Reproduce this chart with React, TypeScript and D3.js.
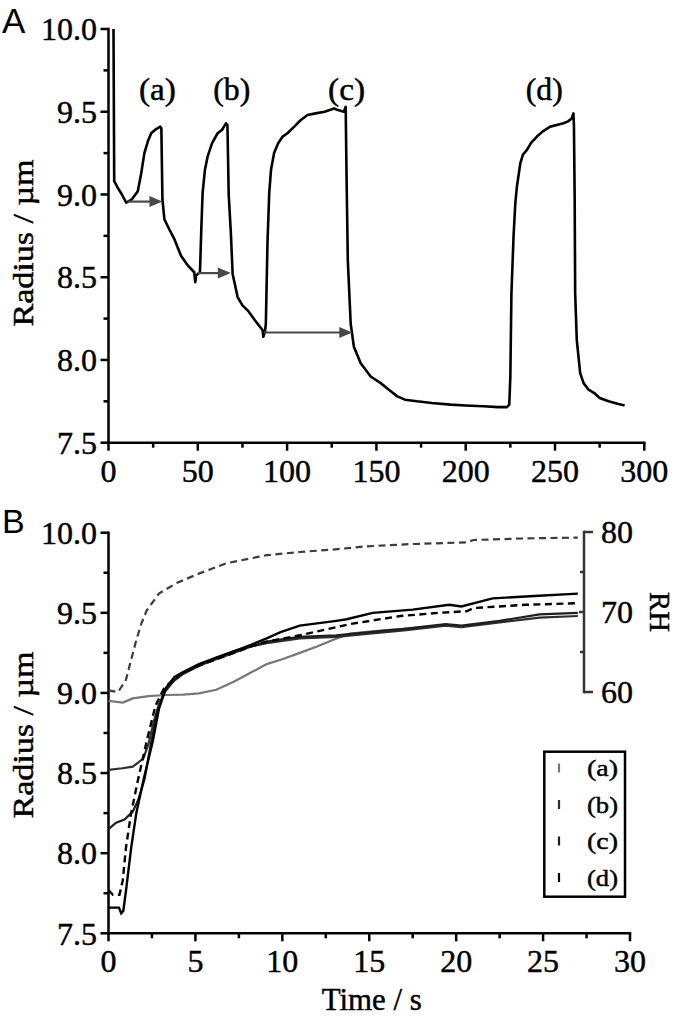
import React from "react";
import * as d3 from "d3";

// ---------- Panel A data: radius (µm) vs time (s) ----------
const panelATime = [2.8, 3.2, 5.2, 7.5, 9.9, 13, 16.4, 18.2, 20.1, 22, 23.9, 26, 29, 29.6, 30.2, 31.3, 34, 36.9, 40.6, 44.5, 48, 48.6, 49, 51.2, 52.0, 52.7, 54, 55.5, 58, 61.1, 63.5, 65.8, 66.6, 67.3, 68.5, 69.5, 72.3, 75, 77.9, 82, 86.3, 86.7, 87.6, 88.1, 89, 90, 91, 92.7, 95, 97.5, 100.2, 104, 107.7, 111.4, 116, 121, 126.3, 128.5, 131.8, 132.8, 133.3, 134, 135.6, 137.4, 141.2, 146.8, 152.4, 157, 161.7, 166, 172.8, 181, 191.5, 200, 210, 218, 223.1, 224.4, 225.0, 225.6, 226.8, 227.8, 228.7, 230.6, 232, 234.3, 236.5, 239.9, 243, 247.3, 251, 254.7, 257, 259.4, 260.3, 260.6, 261, 261.3, 262.2, 264.1, 266, 268.8, 272, 275, 280, 285, 289];
const panelARadius = [10.0, 9.08, 9.04, 9.0, 8.95, 8.97, 9.02, 9.12, 9.25, 9.32, 9.37, 9.39, 9.41, 9.4, 8.97, 8.85, 8.79, 8.73, 8.63, 8.57, 8.53, 8.47, 8.51, 8.53, 8.8, 9.01, 9.15, 9.23, 9.31, 9.37, 9.39, 9.43, 9.42, 9.0, 8.77, 8.52, 8.38, 8.33, 8.3, 8.24, 8.18, 8.14, 8.17, 8.22, 8.7, 9.01, 9.15, 9.25, 9.31, 9.35, 9.37, 9.41, 9.45, 9.48, 9.49, 9.5, 9.52, 9.51, 9.5, 9.53, 9.1, 8.6, 8.22, 8.08, 7.98, 7.9, 7.86, 7.82, 7.78, 7.76, 7.75, 7.74, 7.73, 7.725, 7.72, 7.715, 7.715, 7.73, 7.9, 8.4, 8.75, 8.95, 9.05, 9.19, 9.24, 9.27, 9.31, 9.35, 9.38, 9.41, 9.42, 9.43, 9.44, 9.46, 9.49, 9.42, 9.0, 8.4, 8.12, 7.92, 7.86, 7.82, 7.8, 7.77, 7.75, 7.735, 7.725];

// arrows (start time, end time, radius)
const arrowStart = [10.7, 49.9, 87.2];
const arrowEnd = [30.2, 68.5, 136.5];
const arrowRadius = [8.957, 8.525, 8.166];

const cycleLabels = ["(a)", "(b)", "(c)", "(d)"];
const cycleLabelTime = [27.4, 69, 133.3, 244];
const cycleLabelRadius = 9.571;

const aXTicks = [0, 50, 100, 150, 200, 250, 300];
const aXMinor = [25, 75, 125, 175, 225, 275];
const radiusTicks = [7.5, 8.0, 8.5, 9.0, 9.5, 10.0];
const radiusMinor = [7.75, 8.25, 8.75, 9.25, 9.75];

// ---------- Panel B data ----------
const rhTime = [0, 0.55, 1.0, 1.3, 1.6, 1.9, 2.2, 2.9, 3.9, 5.2, 6.8, 9.1, 11, 12.9, 14.8, 17.5, 20.6, 21, 24, 27];
const rhValue = [60.2, 60.0, 61.5, 64, 66.5, 68.6, 70.2, 72.3, 73.6, 74.8, 76.1, 77.1, 77.5, 77.8, 78.2, 78.5, 78.7, 79.0, 79.2, 79.3];

const timeA = [0, 0.83, 1.4, 2.3, 3.3, 4.3, 5.2, 6.2, 7.2, 7.9, 9.1, 10, 11, 12, 12.9, 13.9, 15.8, 17, 18];
const radiusA = [8.95, 8.94, 8.966, 8.98, 8.987, 8.99, 8.997, 9.02, 9.07, 9.11, 9.18, 9.21, 9.25, 9.29, 9.33, 9.37, 9.39, 9.4, 9.41];

const timeB = [0, 0.8, 1.4, 2.0, 2.3, 2.6, 2.9, 3.3, 3.8, 4.3, 5.2, 6.2, 7.2, 8.2, 9.1, 11, 13.1, 15, 17, 19.4, 20.3, 22.5, 24.8, 27];
const radiusB = [8.52, 8.53, 8.54, 8.59, 8.68, 8.82, 8.93, 9.02, 9.08, 9.12, 9.17, 9.21, 9.25, 9.29, 9.31, 9.34, 9.35, 9.37, 9.39, 9.42, 9.41, 9.44, 9.47, 9.48];

const timeC = [0, 0.44, 0.92, 1.4, 1.7, 2.07, 2.4, 2.8, 3.2, 3.7, 4.3, 5.2, 6.2, 7.2, 8.2, 9.1, 11, 13.1, 15, 17, 19.4, 20.3, 22.5, 24.8, 27];
const radiusC = [8.15, 8.19, 8.21, 8.26, 8.33, 8.46, 8.66, 8.88, 9.0, 9.07, 9.12, 9.17, 9.22, 9.26, 9.29, 9.32, 9.35, 9.36, 9.38, 9.4, 9.43, 9.42, 9.45, 9.49, 9.5];

const timeD = [0, 0.6, 0.73, 0.85, 1.0, 1.3, 1.6, 2.0, 2.55, 2.9, 3.3, 3.8, 4.3, 5.2, 6.2, 7.2, 8.2, 9.1, 9.9, 11, 13.1, 13.7, 15.2, 17.5, 19.6, 20.3, 22.1, 24.5, 27];
const radiusD = [7.66, 7.66, 7.625, 7.64, 7.76, 8.03, 8.25, 8.45, 8.7, 8.9, 9.03, 9.1, 9.13, 9.18, 9.22, 9.26, 9.3, 9.34, 9.38, 9.42, 9.45, 9.46, 9.5, 9.52, 9.55, 9.54, 9.59, 9.605, 9.62];

const timeDashed = [0, 0.25, 0.63, 0.82, 1.0, 1.3, 1.7, 2.2, 2.7, 3.2, 3.8, 4.3, 5.2, 6.2, 7.2, 8.2, 9.1, 11, 13.1, 13.9, 16.8, 19, 20.6, 21, 24, 27];
const radiusDashed = [7.77, 7.74, 7.74, 7.83, 8.03, 8.25, 8.46, 8.7, 8.92, 9.03, 9.09, 9.13, 9.17, 9.21, 9.25, 9.29, 9.32, 9.36, 9.41, 9.43, 9.48, 9.5, 9.51, 9.53, 9.55, 9.56];

const bXTicks = [0, 5, 10, 15, 20, 25, 30];
const bXMinor = [2.5, 7.5, 12.5, 17.5, 22.5, 27.5];
const rhTicks = [60, 70, 80];
const rhMinor = [65, 75];

const legendLabels = ["(a)", "(b)", "(c)", "(d)"];
const legendColors = ["#777777", "#2e2e2e", "#1e1e1e", "#000000"];

// ---------- scales ----------
const ax = d3.scaleLinear().domain([0, 300]).range([108.5, 644.3]);
const ay = d3.scaleLinear().domain([7.5, 10]).range([442.7, 29]);
const bx = d3.scaleLinear().domain([0, 30]).range([108.5, 630]);
const by = d3.scaleLinear().domain([7.5, 10]).range([933.3, 532.7]);
const brh = d3.scaleLinear().domain([60, 80]).range([692, 532]);

const SERIF = '"Liberation Serif", Tinos, "Times New Roman", Times, serif';
const SANS = '"Liberation Sans", Arimo, Arial, sans-serif';
const serifStyle = { fontFamily: SERIF, stroke: "#000", strokeWidth: 0.45 };
const sansStyle = { fontFamily: SANS };

function zip(xs: number[], ys: number[]): [number, number][] {
  return xs.map((x, i) => [x, ys[i]]);
}

function Axes({ x, y, xt, xm, yt, ym, xfmt }: any) {
  const x0 = x.range()[0];
  const x1 = x.range()[1];
  const yb = y.range()[0];
  const yt0 = y.range()[1];
  return (
    <g>
      <g stroke="#000" strokeWidth={2.5} fill="none">
        <line x1={x0} y1={yb} x2={x1} y2={yb} strokeLinecap="square" />
        <line x1={x0} y1={yb} x2={x0} y2={yt0} strokeLinecap="square" />
        {xt.map((v: number) => (
          <line key={"xt" + v} x1={x(v)} x2={x(v)} y1={yb} y2={yb + 8} />
        ))}
        {xm.map((v: number) => (
          <line key={"xm" + v} x1={x(v)} x2={x(v)} y1={yb} y2={yb + 5} />
        ))}
        {yt.map((v: number) => (
          <line key={"yt" + v} x1={x0} x2={x0 - 8} y1={y(v)} y2={y(v)} />
        ))}
        {ym.map((v: number) => (
          <line key={"ym" + v} x1={x0} x2={x0 - 5} y1={y(v)} y2={y(v)} />
        ))}
      </g>
      {xt.map((v: number) => (
        <text key={"xl" + v} x={x(v)} y={yb + 39} textAnchor="middle" fontSize={32} style={serifStyle}>
          {xfmt(v)}
        </text>
      ))}
      {yt.map((v: number) => (
        <text key={"yl" + v} x={97} y={y(v)} dy="0.35em" textAnchor="end" fontSize={32} style={serifStyle}>
          {d3.format(".1f")(v)}
        </text>
      ))}
    </g>
  );
}

export default function App() {
  const lineA = d3
    .line<[number, number]>()
    .x((d) => ax(d[0]))
    .y((d) => ay(d[1]));
  const lineB = d3
    .line<[number, number]>()
    .x((d) => bx(d[0]))
    .y((d) => by(d[1]));
  const lineRH = d3
    .line<[number, number]>()
    .x((d) => bx(d[0]))
    .y((d) => brh(d[1]));

  const intFmt = d3.format("d");

  return (
    <svg
      width={677}
      height={1017}
      viewBox="0 0 677 1017"
      style={{ position: "absolute", left: 0, top: 0, background: "#fff" }}
    >
      <rect x={0} y={0} width={677} height={1017} fill="#fff" />
      {/* ---------- Panel A ---------- */}
      <text x={2} y={33} fontSize={35} style={sansStyle}>A</text>
      <Axes x={ax} y={ay} xt={aXTicks} xm={aXMinor} yt={radiusTicks} ym={radiusMinor} xfmt={intFmt} />
      <text
        transform={`translate(33,243) rotate(-90)`}
        textAnchor="middle"
        fontSize={30}
        textLength={167}
        lengthAdjust="spacingAndGlyphs"
        style={serifStyle}
      >
        Radius / µm
      </text>
      <path
        d={lineA(zip(panelATime, panelARadius)) || ""}
        fill="none"
        stroke="#000"
        strokeWidth={2.6}
        strokeLinejoin="round"
      />
      {arrowStart.map((t0, i) => {
        const xs = ax(t0);
        const xe = ax(arrowEnd[i]);
        const yy = ay(arrowRadius[i]);
        return (
          <g key={"arr" + i} fill="#484848" stroke="#484848">
            <line x1={xs} y1={yy} x2={xe - 11} y2={yy} strokeWidth={2.2} />
            <polygon points={`${xe},${yy} ${xe - 13},${yy - 5.5} ${xe - 13},${yy + 5.5}`} stroke="none" />
          </g>
        );
      })}
      {cycleLabels.map((s, i) => (
        <text
          key={s}
          x={ax(cycleLabelTime[i])}
          y={ay(cycleLabelRadius)}
          textAnchor="middle"
          fontSize={31}
          textLength={37}
          lengthAdjust="spacingAndGlyphs"
          style={serifStyle}
        >
          {s}
        </text>
      ))}

      {/* ---------- Panel B ---------- */}
      <text x={2} y={533} fontSize={34} style={sansStyle}>B</text>
      <Axes x={bx} y={by} xt={bXTicks} xm={bXMinor} yt={radiusTicks} ym={radiusMinor} xfmt={intFmt} />
      <text
        transform={`translate(33,735) rotate(-90)`}
        textAnchor="middle"
        fontSize={30}
        textLength={167}
        lengthAdjust="spacingAndGlyphs"
        style={serifStyle}
      >
        Radius / µm
      </text>
      <text
        x={371.7}
        y={1010}
        textAnchor="middle"
        fontSize={31}
        textLength={100}
        lengthAdjust="spacingAndGlyphs"
        style={serifStyle}
      >
        Time / s
      </text>

      {/* RH axis */}
      <g stroke="#333" strokeWidth={2.5} fill="none">
        <line x1={584} x2={584} y1={brh(60)} y2={brh(80)} strokeLinecap="square" />
        <line x1={584} x2={593} y1={brh(80)} y2={brh(80)} />
        <line x1={584} x2={593} y1={brh(60)} y2={brh(60)} />
        <line x1={584} x2={579} y1={brh(70)} y2={brh(70)} />
        {rhMinor.map((v) => (
          <line key={"rm" + v} x1={584} x2={580} y1={brh(v)} y2={brh(v)} />
        ))}
      </g>
      {rhTicks.map((v) => (
        <text key={"rh" + v} x={601} y={brh(v)} dy="0.35em" fontSize={32} style={serifStyle}>
          {v}
        </text>
      ))}
      <text
        transform={`translate(650,612) rotate(90)`}
        textAnchor="middle"
        fontSize={30}
        textLength={40}
        lengthAdjust="spacingAndGlyphs"
        style={serifStyle}
      >
        RH
      </text>

      {/* RH dashed */}
      <path
        d={lineRH(zip(rhTime, rhValue)) || ""}
        fill="none"
        stroke="#3c3c3c"
        strokeWidth={2.2}
        strokeDasharray="7,4.5"
      />
      {/* radius curves */}
      <path d={lineB(zip(timeA, radiusA)) || ""} fill="none" stroke={legendColors[0]} strokeWidth={2.2} />
      <path d={lineB(zip(timeB, radiusB)) || ""} fill="none" stroke={legendColors[1]} strokeWidth={2.2} />
      <path d={lineB(zip(timeC, radiusC)) || ""} fill="none" stroke={legendColors[2]} strokeWidth={2.2} />
      <path d={lineB(zip(timeDashed, radiusDashed)) || ""} fill="none" stroke="#000" strokeWidth={2.4} strokeDasharray="7,4.5" />
      <path d={lineB(zip(timeD, radiusD)) || ""} fill="none" stroke={legendColors[3]} strokeWidth={2.4} />

      {/* legend */}
      <rect x={544.3} y={751.7} width={80.7} height={145} fill="#fff" stroke="#000" strokeWidth={2.5} />
      {legendLabels.map((s, i) => {
        const yy = 768 + i * 36.5;
        return (
          <g key={"lg" + s}>
            <line x1={559} x2={559} y1={yy - 4.5} y2={yy + 4.5} stroke={legendColors[i]} strokeWidth={2.2} />
            <text x={587} y={yy} dy="0.35em" fontSize={24} textLength={31} lengthAdjust="spacingAndGlyphs" style={serifStyle}>
              {s}
            </text>
          </g>
        );
      })}
    </svg>
  );
}
